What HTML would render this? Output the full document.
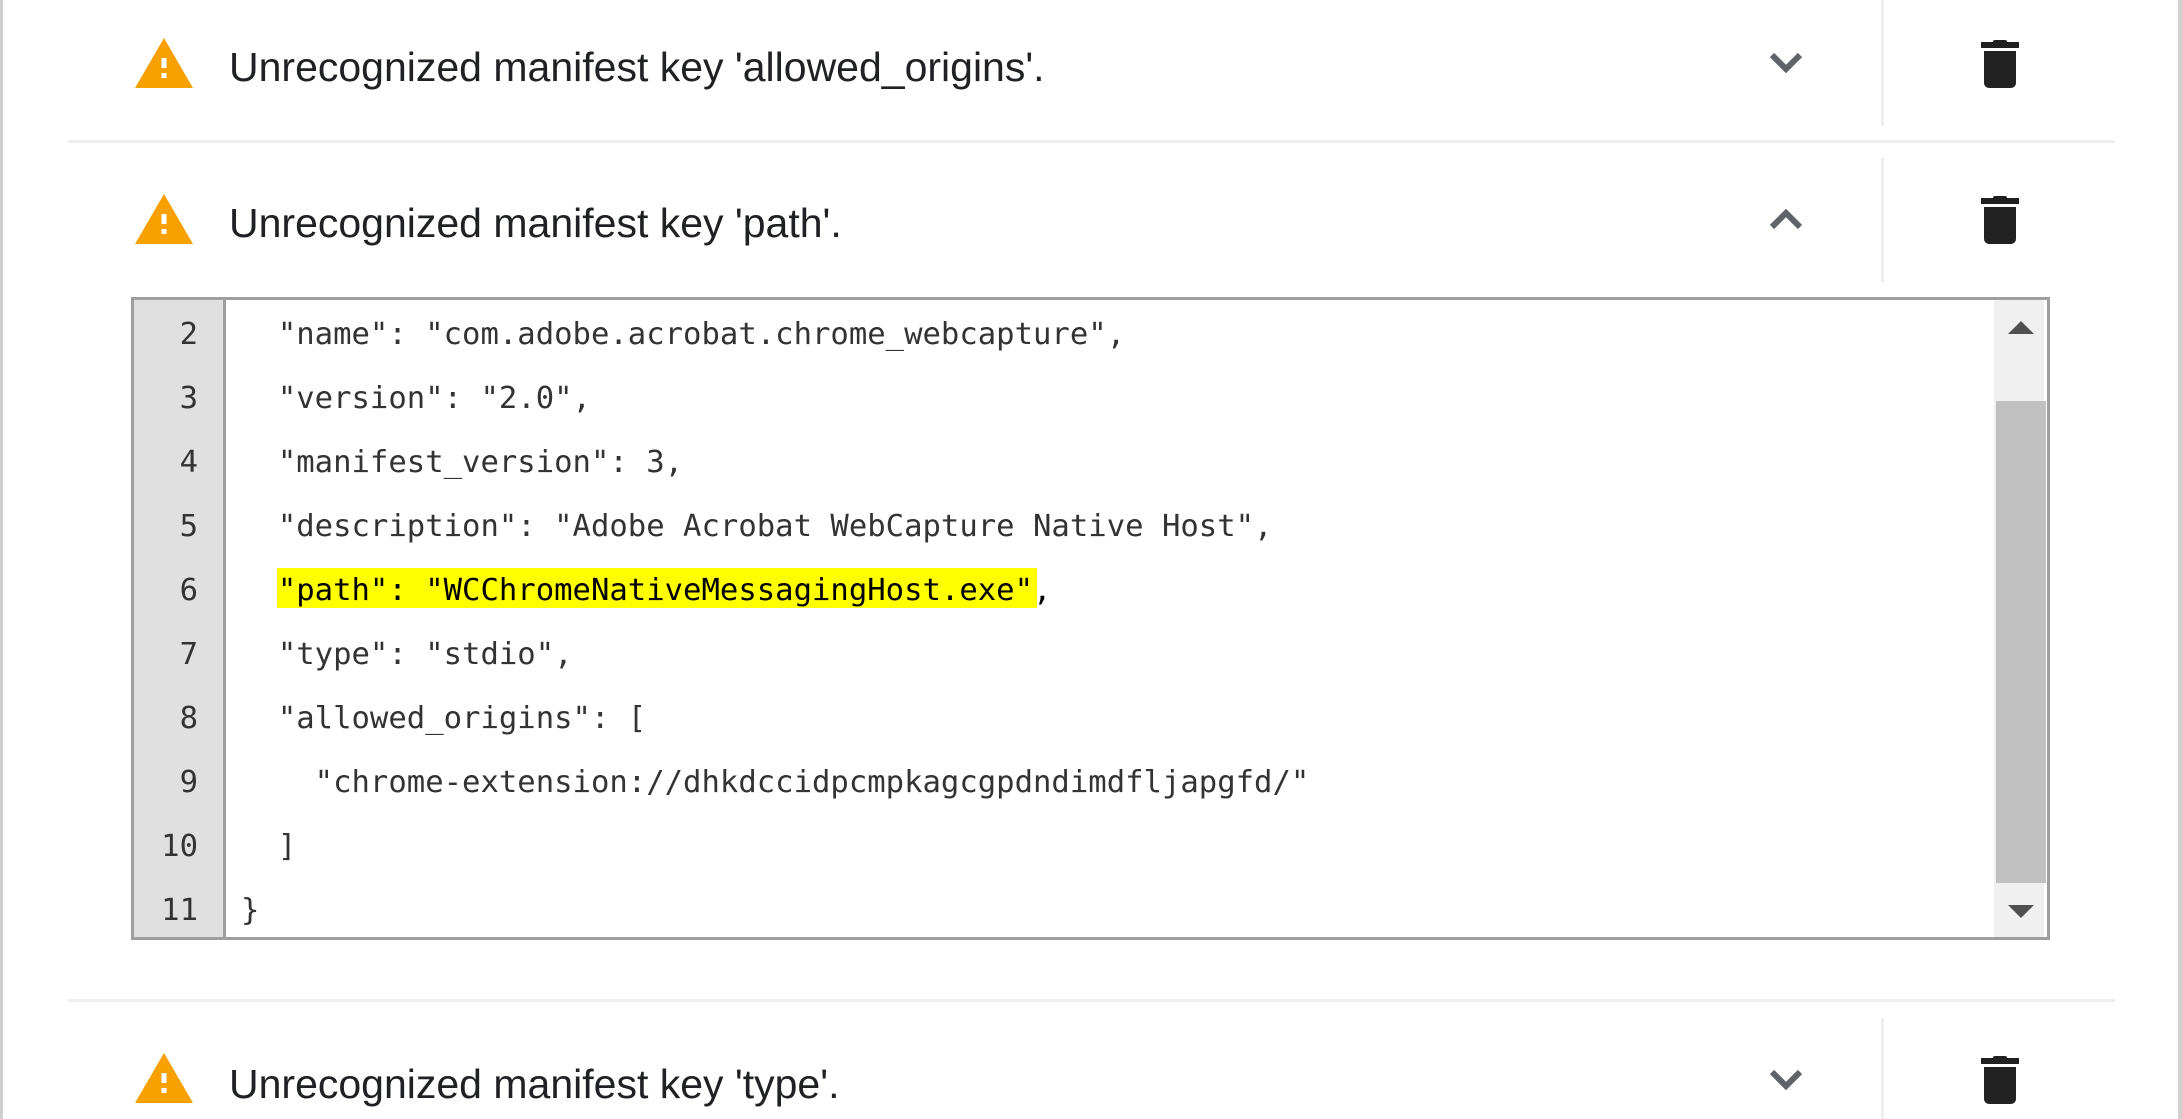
<!DOCTYPE html>
<html><head><meta charset="utf-8"><style>
html,body{margin:0;padding:0;width:2182px;height:1119px;background:#fff;overflow:hidden;position:relative}
.a{position:absolute}
.t{position:absolute;font-family:"Liberation Sans",sans-serif;font-size:41px;color:#202124;white-space:nowrap;line-height:1}
.code{position:absolute;font-family:"DejaVu Sans Mono","Liberation Mono",monospace;font-size:30.6px;color:#333;white-space:pre;line-height:1}
.ln{position:absolute;font-family:"DejaVu Sans Mono","Liberation Mono",monospace;font-size:30.6px;color:#333;line-height:1;width:60px;text-align:right;left:138px}
</style></head><body>
<div class="a" style="left:0;top:0;width:3px;height:1119px;background:#d0d0d0"></div>
<div class="a" style="left:2178px;top:0;width:4px;height:1119px;background:#d0d0d0"></div>

<div class="a" style="left:68px;top:140px;width:2047px;height:3px;background:#eee"></div>
<div class="a" style="left:68px;top:999px;width:2047px;height:3px;background:#eee"></div>
<div class="a" style="left:1881px;top:0;width:3px;height:126px;background:#eee"></div>
<div class="a" style="left:1881px;top:158px;width:3px;height:124px;background:#eee"></div>
<div class="a" style="left:1881px;top:1018px;width:3px;height:101px;background:#eee"></div>

<svg class="a" style="left:0;top:0" width="2182" height="1119">
<defs>
<g id="warn"><polygon points="29,0 58,50 0,50" fill="#f8a000"/><rect x="26.5" y="20" width="5" height="10" fill="#fff"/><rect x="26.5" y="35" width="5" height="5" fill="#fff"/></g>
<g id="trash" fill="#212121"><rect x="0" y="2" width="38" height="6"/><rect x="12" y="0" width="14" height="4" rx="2"/><path d="M3,11 H35 V43 a5,5 0 0 1 -5,5 H8 a5,5 0 0 1 -5,-5 Z"/></g>
</defs>
<use href="#warn" x="135" y="38"/>
<use href="#warn" x="135" y="194"/>
<use href="#warn" x="135" y="1053"/>
<polyline points="1772,55 1786,69 1800,55" fill="none" stroke="#5f6368" stroke-width="6"/>
<polyline points="1772,227 1786,213 1800,227" fill="none" stroke="#5f6368" stroke-width="6"/>
<polyline points="1772,1072 1786,1086 1800,1072" fill="none" stroke="#5f6368" stroke-width="6"/>
<use href="#trash" x="1981" y="40"/>
<use href="#trash" x="1981" y="196"/>
<use href="#trash" x="1981" y="1056"/>
</svg>

<div class="t" style="left:229px;top:47px">Unrecognized manifest key 'allowed_origins'.</div>
<div class="t" style="left:229px;top:203px">Unrecognized manifest key 'path'.</div>
<div class="t" style="left:229px;top:1064px">Unrecognized manifest key 'type'.</div>

<div class="a" style="left:131px;top:297px;width:1913px;height:637px;border:3px solid #9e9e9e;background:#fff"></div>
<div class="a" style="left:134px;top:300px;width:89px;height:637px;background:#e0e0e0;border-right:3px solid #9e9e9e"></div>
<div class="a" style="left:1994px;top:300px;width:50px;height:637px;background:#f0f0f0"></div>
<div class="a" style="left:1996px;top:401px;width:50px;height:482px;background:#c0c0c0"></div>
<svg class="a" style="left:1994px;top:300px" width="50" height="637">
<polygon points="27,21 40,34 14,34" fill="#505050"/>
<polygon points="14,605 40,605 27,618" fill="#505050"/>
</svg>
<div class="a" style="left:277px;top:568px;width:760px;height:40px;background:#ffff00"></div>

<div class="ln" style="top:320px">2</div>
<div class="ln" style="top:384px">3</div>
<div class="ln" style="top:448px">4</div>
<div class="ln" style="top:512px">5</div>
<div class="ln" style="top:576px">6</div>
<div class="ln" style="top:640px">7</div>
<div class="ln" style="top:704px">8</div>
<div class="ln" style="top:768px">9</div>
<div class="ln" style="top:832px">10</div>
<div class="ln" style="top:896px">11</div>

<div class="code" style="left:241px;top:320px">  "name": "com.adobe.acrobat.chrome_webcapture",</div>
<div class="code" style="left:241px;top:384px">  "version": "2.0",</div>
<div class="code" style="left:241px;top:448px">  "manifest_version": 3,</div>
<div class="code" style="left:241px;top:512px">  "description": "Adobe Acrobat WebCapture Native Host",</div>
<div class="code" style="left:241px;top:576px;color:#000">  "path": "WCChromeNativeMessagingHost.exe",</div>
<div class="code" style="left:241px;top:640px">  "type": "stdio",</div>
<div class="code" style="left:241px;top:704px">  "allowed_origins": [</div>
<div class="code" style="left:241px;top:768px">    "chrome-extension://dhkdccidpcmpkagcgpdndimdfljapgfd/"</div>
<div class="code" style="left:241px;top:832px">  ]</div>
<div class="code" style="left:241px;top:896px">}</div>
</body></html>
